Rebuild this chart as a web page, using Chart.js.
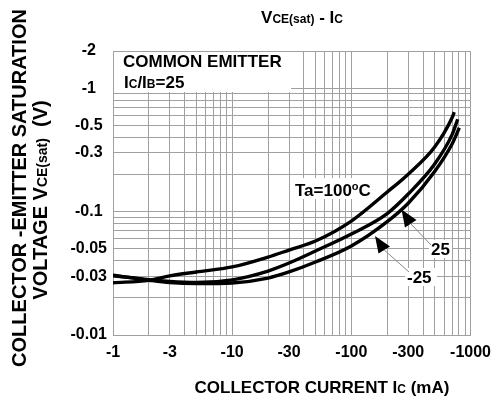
<!DOCTYPE html>
<html>
<head>
<meta charset="utf-8">
<script src="https://cdn.jsdelivr.net/npm/chart.js@4.4.1/dist/chart.umd.min.js"></script>
<style>
  html, body { margin: 0; padding: 0; background: #fff; }
  #c { display: block; }
</style>
</head>
<body>
<canvas id="c" width="499" height="405"></canvas>
<script>
// collector current (mA, magnitude) and VCE(sat) (V, magnitude) per temperature
const ic100 = [1, 2, 3, 5, 10, 20, 30, 50, 100, 200, 300, 500, 700, 730];
const vce100 = [0.0265, 0.0277, 0.0301, 0.0324, 0.0356, 0.0428, 0.0488, 0.0577, 0.0838, 0.144, 0.201, 0.333, 0.575, 0.64];

const ic25 = [1, 2, 3, 5, 10, 20, 30, 50, 100, 200, 300, 500, 700, 780];
const vce25 = [0.0302, 0.0281, 0.0271, 0.0266, 0.028, 0.033, 0.0383, 0.0479, 0.0658, 0.0964, 0.1387, 0.2427, 0.42, 0.56];

const icM25 = [1, 2, 3, 5, 10, 20, 30, 50, 100, 200, 300, 500, 700, 805];
const vceM25 = [0.0305, 0.0278, 0.0266, 0.0261, 0.0264, 0.0289, 0.0324, 0.039, 0.0526, 0.0828, 0.1167, 0.211, 0.353, 0.478];

const xTickLabels = [1, 3, 10, 30, 100, 300, 1000];
const yTickLabels = [0.01, 0.03, 0.05, 0.1, 0.3, 0.5, 1, 2];

const FONT = "'Liberation Sans', Arial, sans-serif";
const GRID = '#a0a0a0';

function pts(xs, ys) {
  return xs.map((x, i) => ({x: x, y: ys[i]}));
}

function logGrid(min, max) {
  const out = [];
  for (let e = Math.floor(Math.log10(min)); Math.pow(10, e) <= max; e++) {
    for (let m = 1; m < 10; m++) {
      const v = +(m * Math.pow(10, e)).toPrecision(6);
      if (v >= min * 0.999 && v <= max * 1.001) out.push({value: v});
    }
  }
  return out;
}

function labelFor(list) {
  return function (value) {
    return list.some(l => Math.abs(l - value) / l < 1e-6) ? '-' + value : '';
  };
}

// text with mixed sizes (small caps subscripts of the datasheet)
function drawRich(ctx, parts, x, y, align) {
  let w = 0;
  parts.forEach(p => {
    ctx.font = 'bold ' + p[1] + 'px ' + FONT;
    w += ctx.measureText(p[0]).width;
  });
  let cx = align === 'center' ? x - w / 2 : x;
  ctx.textAlign = 'left';
  ctx.textBaseline = 'alphabetic';
  parts.forEach(p => {
    ctx.font = 'bold ' + p[1] + 'px ' + FONT;
    ctx.fillText(p[0], cx, y - (p[2] || 0));
    cx += ctx.measureText(p[0]).width;
  });
}

function arrow(ctx, tip, b1, b2, end) {
  ctx.fillStyle = '#000';
  ctx.beginPath();
  ctx.moveTo(tip[0], tip[1]);
  ctx.lineTo(b1[0], b1[1]);
  ctx.lineTo(b2[0], b2[1]);
  ctx.closePath();
  ctx.fill();
  ctx.strokeStyle = '#888';
  ctx.lineWidth = 1;
  ctx.beginPath();
  ctx.moveTo((b1[0] + b2[0]) / 2, (b1[1] + b2[1]) / 2);
  ctx.lineTo(end[0], end[1]);
  ctx.stroke();
}

const textPlugin = {
  id: 'datasheetText',
  beforeDatasetsDraw(chart) {
    const ctx = chart.ctx;
    ctx.save();
    ctx.fillStyle = '#fff';
    ctx.fillRect(114, 52, 177, 40);   // COMMON EMITTER box
    ctx.fillRect(290, 178, 91, 21);   // Ta=100°C
    ctx.fillRect(429, 240, 23, 18);   // 25
    ctx.fillRect(405, 268, 32, 18);   // -25
    ctx.restore();
  },
  afterDatasetsDraw(chart) {
    const ctx = chart.ctx;
    ctx.save();
    ctx.fillStyle = '#000';
    drawRich(ctx, [['COMMON EMITTER', 17]], 123, 67, 'left');
    drawRich(ctx, [['I', 17], ['C', 12], ['/I', 17], ['B', 12], ['=25', 17]], 124, 88, 'left');
    drawRich(ctx, [['Ta=100', 17], ['o', 11, 6], ['C', 17]], 295, 196, 'left');
    drawRich(ctx, [['25', 17]], 431, 255, 'left');
    drawRich(ctx, [['-25', 17]], 407, 283, 'left');

    arrow(ctx, [401.5, 209.5], [405, 227.5], [416.5, 220], [431, 245]);
    arrow(ctx, [375, 236], [378.5, 253.5], [390, 246.5], [409, 272]);

    ctx.fillStyle = '#000';
    drawRich(ctx, [['V', 17], ['CE(sat)', 12], [' - I', 17], ['C', 12]], 302, 23, 'center');
    drawRich(ctx, [['COLLECTOR CURRENT I', 17], ['C', 12], [' (mA)', 17]], 322, 393, 'center');

    ctx.save();
    ctx.translate(26, 188);
    ctx.rotate(-Math.PI / 2);
    drawRich(ctx, [['COLLECTOR -EMITTER SATURATION', 20]], 0, 0, 'center');
    ctx.restore();
    ctx.save();
    ctx.translate(47, 200);
    ctx.rotate(-Math.PI / 2);
    drawRich(ctx, [['VOLTAGE V', 20], ['CE(sat)', 14], ['  (V)', 20]], 0, 0, 'center');
    ctx.restore();
    ctx.restore();
  }
};

const lineStyle = {
  borderColor: '#000',
  borderWidth: 3.4,
  pointRadius: 0,
  fill: false,
  cubicInterpolationMode: 'monotone'
};

new Chart(document.getElementById('c'), {
  type: 'line',
  data: {
    datasets: [
      Object.assign({label: 'Ta=100°C', data: pts(ic100, vce100)}, lineStyle),
      Object.assign({label: '25', data: pts(ic25, vce25)}, lineStyle),
      Object.assign({label: '-25', data: pts(icM25, vceM25)}, lineStyle)
    ]
  },
  options: {
    responsive: false,
    animation: false,
    layout: {padding: {top: 51, right: 25, left: 0, bottom: 0}},
    plugins: {legend: {display: false}, tooltip: {enabled: false}},
    scales: {
      x: {
        type: 'logarithmic',
        min: 1,
        max: 1000,
        afterBuildTicks: s => { s.ticks = logGrid(1, 1000); },
        afterFit: s => { s.height = 70; },
        grid: {color: GRID, lineWidth: 1, drawTicks: false},
        border: {color: GRID, width: 1},
        ticks: {
          autoSkip: false, maxRotation: 0, padding: 8, color: '#000',
          font: {family: FONT, size: 16, weight: 'bold'},
          callback: labelFor(xTickLabels)
        }
      },
      y: {
        type: 'logarithmic',
        min: 0.01,
        max: 2,
        afterBuildTicks: s => { s.ticks = logGrid(0.01, 2); },
        afterFit: s => { s.width = 113; },
        grid: {color: GRID, lineWidth: 1, drawTicks: false},
        border: {color: GRID, width: 1},
        ticks: {
          autoSkip: false, padding: 6, crossAlign: 'center', color: '#000',
          font: {family: FONT, size: 16, weight: 'bold'},
          callback: labelFor(yTickLabels)
        }
      }
    }
  },
  plugins: [textPlugin]
});
</script>
</body>
</html>
